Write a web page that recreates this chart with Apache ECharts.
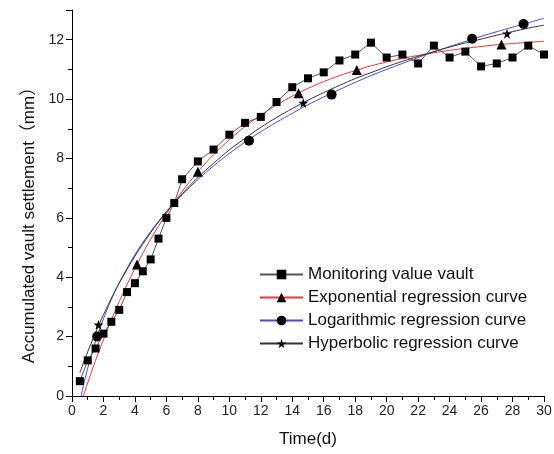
<!DOCTYPE html>
<html>
<head>
<meta charset="utf-8">
<script src="https://cdn.jsdelivr.net/npm/echarts@6/dist/echarts.min.js"></script>
<style>html,body{margin:0;padding:0;background:#fff}#c{width:554px;height:454px}</style>
</head>
<body>
<div id="c"></div>
<script>
// ---------- data ----------
const seriesNames = ['Monitoring value vault', 'Exponential regression curve', 'Logarithmic regression curve', 'Hyperbolic regression curve'];

const monitorDays   = [0.5, 1, 1.5, 2, 2.5, 3, 3.5, 4, 4.5, 5, 5.5, 6, 6.5, 7, 8, 9, 10, 11, 12, 13, 14, 15, 16, 17, 18, 19, 20, 21, 22, 23, 24, 25, 26, 27, 28, 29, 30];
const monitorValues = [0.5, 1.2, 1.6, 2.1, 2.5, 2.9, 3.5, 3.8, 4.2, 4.6, 5.3, 6.0, 6.5, 7.3, 7.9, 8.3, 8.8, 9.2, 9.4, 9.9, 10.4, 10.7, 10.9, 11.3, 11.5, 11.9, 11.4, 11.5, 11.2, 11.8, 11.4, 11.6, 11.1, 11.2, 11.4, 11.8, 11.5];

const expX = [0.72, 1, 1.5, 2, 2.5, 3, 4, 5, 6, 7, 8, 9, 10, 11, 12, 13, 14, 15, 16, 17, 18, 19, 20, 21, 22, 23, 24, 25, 26, 27, 28, 29, 30];
const expY = [0, 0.44, 1.20, 1.90, 2.56, 3.18, 4.30, 5.28, 6.14, 6.89, 7.55, 8.13, 8.63, 9.08, 9.46, 9.80, 10.10, 10.36, 10.59, 10.79, 10.96, 11.12, 11.25, 11.37, 11.47, 11.56, 11.64, 11.71, 11.77, 11.83, 11.87, 11.91, 11.95];
const expMarkX = [4.13, 8.0, 14.4, 18.1, 27.3];
const expMarkY = [4.43, 7.55, 10.20, 10.98, 11.84];

const logX = [0.58, 0.75, 1, 1.5, 2, 2.5, 3, 4, 5, 6, 7, 8, 9, 10, 11, 12, 13, 14, 15, 16, 17, 18, 19, 20, 21, 22, 23, 24, 25, 26, 27, 28, 29, 30];
const logY = [0, 0.41, 0.94, 1.85, 2.60, 3.25, 3.81, 4.76, 5.54, 6.21, 6.78, 7.29, 7.75, 8.17, 8.55, 8.90, 9.22, 9.52, 9.81, 10.07, 10.32, 10.56, 10.79, 11.00, 11.20, 11.40, 11.59, 11.77, 11.94, 12.11, 12.27, 12.42, 12.57, 12.72];
const logMarkX = [1.6, 11.25, 16.5, 25.43, 28.7];
const logMarkY = [2.0, 8.6, 10.15, 12.03, 12.53];

const hypX = [0.5, 0.75, 1, 1.5, 2, 2.5, 3, 4, 5, 6, 7, 8, 9, 10, 11, 12, 13, 14, 15, 16, 17, 18, 19, 20, 21, 22, 23, 24, 25, 26, 27, 28, 29, 30];
const hypY = [0.78, 1.15, 1.49, 2.14, 2.74, 3.29, 3.80, 4.71, 5.50, 6.20, 6.81, 7.36, 7.84, 8.29, 8.68, 9.05, 9.38, 9.68, 9.96, 10.22, 10.46, 10.69, 10.89, 11.09, 11.27, 11.44, 11.60, 11.75, 11.89, 12.02, 12.15, 12.27, 12.39, 12.49];
const hypMarkX = [1.68, 14.7, 27.65];
const hypMarkY = [2.40, 9.87, 12.2];

const xTicks = {min: 0, max: 30, interval: 2};
const yTicks = {min: 0, max: 13, interval: 2};
// ------------------------------------------------

const FONT = "'Liberation Sans', Arial, 'Noto Sans CJK SC', sans-serif";
const STAR = 'path://M50,0 L61,35 L98,35 L68,57 L79,91 L50,70 L21,91 L32,57 L2,35 L39,35 Z';

const pairs = (xs, ys) => xs.map((x, i) => [x, ys[i]]);

function curve(name, xs, ys, color, symbol) {
  return {
    name: name, type: 'line', smooth: 0.3,
    data: pairs(xs, ys),
    symbol: symbol, symbolSize: 10, showSymbol: false,
    lineStyle: {color: color, width: 1},
    itemStyle: {color: '#000'},
    z: 3
  };
}
function marks(name, xs, ys, symbol, size) {
  return {
    name: name, type: 'scatter',
    data: pairs(xs, ys),
    symbol: symbol, symbolSize: size,
    itemStyle: {color: '#000', opacity: 1},
    z: 4
  };
}

const chart = echarts.init(document.getElementById('c'), null, {renderer: 'canvas'});
chart.setOption({
  animation: false,
  backgroundColor: '#fff',
  textStyle: {fontFamily: FONT},
  grid: {left: 72, right: 10, top: 10, bottom: 58, containLabel: false, outerBoundsMode: 'none'},
  legend: {
    orient: 'vertical', left: 259, top: 266, padding: 0,
    itemWidth: 43, itemHeight: 12, itemGap: 6,
    textStyle: {fontSize: 17, fontFamily: FONT, color: '#111'},
    data: seriesNames
  },
  xAxis: {
    type: 'value', min: xTicks.min, max: xTicks.max, interval: xTicks.interval,
    name: 'Time(d)', nameLocation: 'middle', nameGap: 35,
    nameTextStyle: {fontSize: 17, fontFamily: FONT, color: '#111'},
    axisLine: {show: true, onZero: false, lineStyle: {color: '#000', width: 1}},
    axisTick: {show: true, length: 6, lineStyle: {color: '#000'}},
    minorTick: {show: true, splitNumber: 2, length: 4, lineStyle: {color: '#000'}},
    axisLabel: {fontSize: 14, color: '#222', fontFamily: FONT, margin: 8},
    splitLine: {show: false}
  },
  yAxis: {
    type: 'value', min: yTicks.min, max: yTicks.max, interval: yTicks.interval,
    name: 'Accumulated vault settlement（mm）', nameLocation: 'middle', nameGap: 34,
    nameTextStyle: {fontSize: 17, fontFamily: FONT, color: '#111', padding: [0, 36, 0, 0]},
    axisLine: {show: true, onZero: false, lineStyle: {color: '#000', width: 1}},
    axisTick: {show: true, length: 6, lineStyle: {color: '#000'}},
    minorTick: {show: true, splitNumber: 2, length: 4, lineStyle: {color: '#000'}},
    axisLabel: {fontSize: 14, color: '#222', fontFamily: FONT, margin: 8, showMaxLabel: false},
    splitLine: {show: false}
  },
  series: [
    {
      name: seriesNames[0], type: 'line',
      data: pairs(monitorDays, monitorValues),
      symbol: 'rect', symbolSize: 8,
      lineStyle: {color: '#555', width: 1},
      itemStyle: {color: '#000'},
      z: 5
    },
    curve(seriesNames[1], expX, expY, '#e8363c', 'triangle'),
    curve(seriesNames[2], logX, logY, '#4a4ad8', 'circle'),
    curve(seriesNames[3], hypX, hypY, '#333', STAR),
    marks('exp-marks', expMarkX, expMarkY, 'triangle', 10),
    marks('log-marks', logMarkX, logMarkY, 'circle', 10),
    marks('hyp-marks', hypMarkX, hypMarkY, STAR, 10)
  ]
});
</script>
</body>
</html>
